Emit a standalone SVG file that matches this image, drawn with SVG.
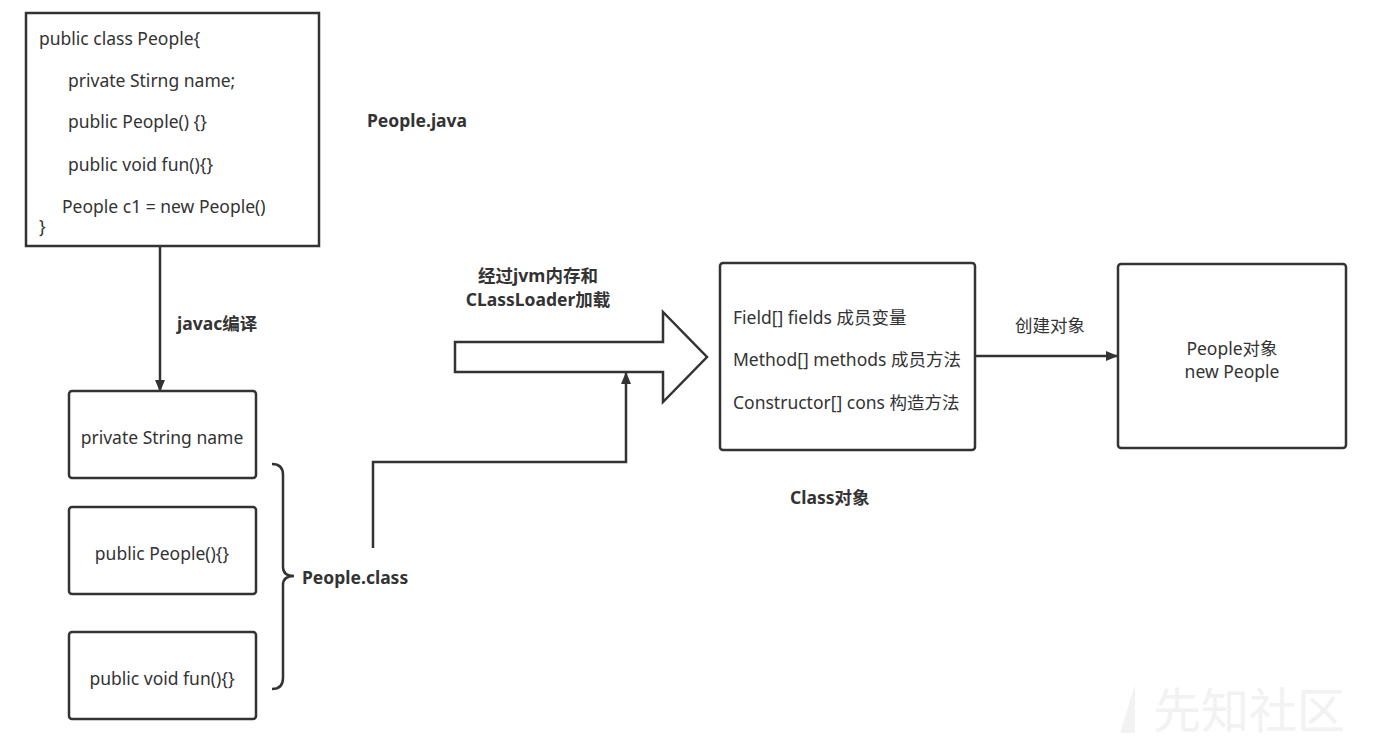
<svg xmlns="http://www.w3.org/2000/svg" width="1394" height="740" viewBox="0 0 1394 740">
<defs>
<style>
.box{fill:#fff;stroke:#333;stroke-width:2.5}
.t{font-family:"Noto Sans","Noto Sans CJK SC",sans-serif;font-size:17.5px;fill:#333}
.c{text-anchor:middle}
.b{font-family:"Noto Sans","Noto Sans CJK SC",sans-serif;font-size:17.5px;font-weight:bold;fill:#333}
.ln{fill:none;stroke:#333;stroke-width:2.5}
.wm{font-family:"Noto Sans CJK SC",sans-serif;font-size:48px;fill:#f2f2f2}
</style>
<marker id="ah" markerWidth="12" markerHeight="10" refX="11" refY="5" orient="auto" markerUnits="userSpaceOnUse">
<path d="M0,0 L12,5 L0,10 Z" fill="#333"/>
</marker>
</defs>
<rect width="1394" height="740" fill="#fff"/>
<g id="watermark">
<polygon points="1120,733 1135,733 1135,685" fill="#f2f2f2"/>
<text class="wm" x="1153" y="728">先知社区</text>
</g>
<g id="source">
<rect class="box" x="26" y="13" width="293" height="233"/>
<text class="t" x="39" y="45">public class People{</text>
<text class="t" x="68" y="87">private Stirng name;</text>
<text class="t" x="68" y="128">public People() {}</text>
<text class="t" x="68" y="171">public void fun(){}</text>
<text class="t" x="62" y="213">People c1 = new People()</text>
<text class="t" x="39" y="233">}</text>
</g>
<g id="label-java"><text class="b" x="367" y="127">People.java</text></g>
<g id="field"><rect class="box" x="69" y="391" width="187" height="87" rx="3"/><text class="t c" x="162" y="444">private String name</text></g>
<g id="ctor"><rect class="box" x="69" y="507" width="187" height="87" rx="3"/><text class="t c" x="162" y="560">public People(){}</text></g>
<g id="method"><rect class="box" x="69" y="632" width="187" height="87" rx="3"/><text class="t c" x="162" y="685">public void fun(){}</text></g>
<g id="brace">
<path class="ln" d="M272,464 Q283,464 283,475 L283,567 Q283,576 294,576 Q283,576 283,585 L283,678 Q283,689 272,689"/>
<text class="b" x="302" y="584">People.class</text>
</g>
<g id="classobj">
<rect class="box" x="720" y="263" width="255" height="187" rx="3"/>
<text class="t" x="733" y="324">Field[] fields 成员变量</text>
<text class="t" x="733" y="366">Method[] methods 成员方法</text>
<text class="t" x="733" y="409">Constructor[] cons 构造方法</text>
</g>
<g id="label-class"><text class="b" x="790" y="504">Class对象</text></g>
<g id="peopleobj">
<rect class="box" x="1118" y="264" width="228" height="184" rx="3"/>
<text class="t c" x="1232" y="355">People对象</text>
<text class="t c" x="1232" y="378">new People</text>
</g>
<g id="connectors">
<line class="ln" x1="160" y1="246" x2="160" y2="391" marker-end="url(#ah)"/>
<text class="b" x="177" y="330">javac编译</text>
<polyline class="ln" points="373,548 373,462 626,462 626,373" marker-end="url(#ah)"/>
<polygon points="455,342 663,342 663,312 707,357 663,402 663,372 455,372" fill="#fff" stroke="#333" stroke-width="2.5"/>
<text class="b c" x="538" y="282">经过jvm内存和</text>
<text class="b c" x="538" y="306">CLassLoader加载</text>
<line class="ln" x1="975" y1="356" x2="1117" y2="356" marker-end="url(#ah)"/>
<text class="t c" x="1050" y="332">创建对象</text>
</g>
</svg>
